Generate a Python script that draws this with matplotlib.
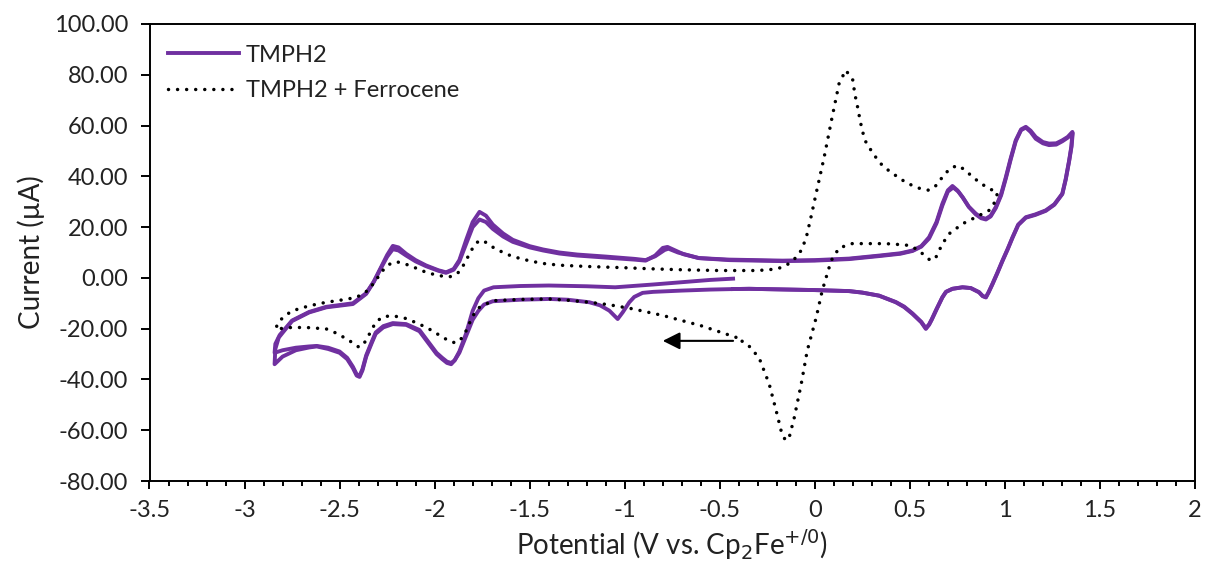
import matplotlib
matplotlib.use("Agg")
import matplotlib.pyplot as plt
from matplotlib.ticker import MultipleLocator, FuncFormatter

plt.rcParams['font.family'] = ['Lato', 'DejaVu Sans']
plt.rcParams['axes.unicode_minus'] = False

# ---------------- data ----------------
series_labels = ["TMPH2", "TMPH2 + Ferrocene"]

# TMPH2, cycle 1 (start -0.43 V, scan negative, to +1.36 V, back to -0.43 V)
tmph2_c1_E = [-0.43, -0.55, -0.70, -0.85, -1.05, -1.20, -1.40, -1.55, -1.69, -1.74, -1.77, -1.80, -1.835, -1.87,
              -1.895, -1.913, -1.935, -1.96, -1.99, -2.04, -2.08, -2.15, -2.22, -2.27, -2.31, -2.33, -2.36,
              -2.38, -2.395, -2.41, -2.43, -2.46, -2.50, -2.56, -2.62, -2.66, -2.73, -2.80, -2.842,
              -2.838, -2.82, -2.75, -2.66, -2.57, -2.43, -2.36, -2.32, -2.29, -2.25, -2.22, -2.19, -2.15, -2.10,
              -2.045, -1.98, -1.94, -1.90, -1.87, -1.834, -1.80, -1.764, -1.73, -1.694, -1.64, -1.589, -1.50,
              -1.43, -1.344, -1.25, -1.10, -0.95, -0.89, -0.84, -0.79, -0.77, -0.72, -0.66, -0.61, -0.45, -0.17,
              0.0, 0.18, 0.34, 0.45, 0.514, 0.56, 0.601, 0.64, 0.671, 0.70, 0.724, 0.75, 0.777, 0.81, 0.847,
              0.875, 0.90, 0.925, 0.952, 0.98, 1.005, 1.03, 1.057, 1.085, 1.11, 1.135, 1.162, 1.20, 1.232, 1.27,
              1.302, 1.33, 1.355,
              1.35, 1.338, 1.32, 1.302, 1.26, 1.215, 1.16, 1.11, 1.07, 1.04, 1.015, 0.987, 0.96, 0.934, 0.915,
              0.90, 0.883, 0.864, 0.82, 0.777, 0.724, 0.69, 0.671, 0.64, 0.615, 0.601, 0.584, 0.56, 0.514, 0.47,
              0.426, 0.338, 0.25, 0.18, 0.0, -0.345, -0.43]
tmph2_c1_I = [-0.3, -0.8, -1.7, -2.6, -3.7, -3.3, -3.0, -3.2, -3.7, -5.0, -8.0, -13.0, -22.0, -29.0,
              -32.5, -34.0, -33.5, -32.0, -30.0, -25.0, -21.0, -18.5, -18.2, -19.5, -22.0, -25.5, -31.0,
              -36.5, -39.0, -38.5, -35.5, -32.0, -29.5, -28.0, -27.0, -27.4, -28.5, -31.0, -34.0,
              -28.0, -23.5, -17.0, -13.6, -11.6, -10.3, -6.3, -1.5, 3.0, 9.0, 12.6, 12.0, 9.5, 7.0,
              4.9, 3.0, 2.2, 3.5, 7.0, 15.0, 22.0, 26.0, 24.5, 21.0, 17.5, 15.0, 12.5,
              11.2, 10.0, 9.2, 8.4, 7.5, 7.0, 8.5, 11.0, 11.5, 10.0, 8.8, 7.8, 7.2, 6.8,
              7.0, 7.6, 8.8, 9.7, 10.8, 12.5, 16.0, 22.0, 29.2, 34.5, 36.2, 34.5, 31.8, 28.0, 25.3,
              23.8, 23.3, 24.5, 27.9, 33.0, 39.7, 47.0, 54.2, 58.5, 59.5, 58.0, 55.5, 53.5, 52.9, 53.0,
              54.2, 55.5, 57.5,
              52.0, 46.3, 39.0, 33.2, 29.0, 26.6, 25.0, 23.9, 21.0, 16.0, 11.5, 6.8, 2.0, -2.4, -5.5,
              -7.7, -7.2, -5.7, -4.0, -3.7, -4.3, -5.5, -7.7, -12.5, -16.5, -18.5, -20.1, -17.5, -14.2, -11.5,
              -9.6, -7.0, -5.8, -5.2, -4.8, -4.3, -4.4]

# TMPH2, cycle 2 (continues from -0.43 V)
tmph2_c2_E = [-0.43, -0.55, -0.70, -0.85, -0.906, -0.95, -0.976, -1.01, -1.037, -1.06, -1.081, -1.13, -1.186,
              -1.30, -1.396, -1.55, -1.694, -1.74, -1.77, -1.80, -1.835, -1.87, -1.895, -1.913, -1.935, -1.96,
              -1.99, -2.04, -2.08, -2.15, -2.22, -2.27, -2.31, -2.33, -2.36, -2.38, -2.395, -2.41, -2.43,
              -2.46, -2.50, -2.56, -2.62, -2.66, -2.73, -2.80, -2.842,
              -2.838, -2.815, -2.75, -2.66, -2.57, -2.43, -2.36, -2.32, -2.29, -2.25, -2.22, -2.19, -2.15, -2.10,
              -2.045, -1.98, -1.94, -1.90, -1.87, -1.834, -1.80, -1.764, -1.73, -1.694, -1.64, -1.589, -1.50,
              -1.43, -1.344, -1.25, -1.10, -0.95, -0.89, -0.84, -0.80, -0.775, -0.74, -0.69, -0.61, -0.45,
              -0.17, 0.0, 0.18, 0.34, 0.45, 0.514, 0.56, 0.601, 0.64, 0.671, 0.70, 0.728, 0.755, 0.78, 0.81,
              0.847, 0.875, 0.90, 0.925, 0.952, 0.98, 1.005, 1.03, 1.057, 1.085, 1.11, 1.135, 1.162, 1.20,
              1.232, 1.27, 1.302, 1.33, 1.357,
              1.35, 1.338, 1.32, 1.302, 1.26, 1.215, 1.16, 1.11, 1.07, 1.04, 1.015, 0.987, 0.96, 0.934, 0.915,
              0.90, 0.883, 0.864, 0.82, 0.777, 0.724, 0.69, 0.671, 0.64, 0.615, 0.601, 0.584, 0.56, 0.514, 0.47,
              0.426, 0.338, 0.25, 0.18, 0.0, -0.345, -0.43]
tmph2_c2_I = [-4.4, -4.6, -5.0, -5.5, -5.9, -7.5, -9.6, -13.5, -16.2, -14.5, -12.9, -10.8, -9.6,
              -8.6, -8.3, -8.6, -9.2, -10.5, -13.0, -16.5, -23.0, -29.5, -32.5, -33.5, -33.0, -31.5,
              -29.5, -24.5, -20.5, -18.2, -17.8, -19.0, -21.5, -25.0, -30.5, -36.0, -38.5, -38.0, -35.0,
              -31.5, -29.0, -27.5, -26.8, -27.0, -27.5, -28.5, -29.5,
              -26.0, -22.5, -16.8, -13.4, -11.4, -10.0, -6.0, -1.5, 2.8, 8.3, 11.3, 10.8, 8.8, 6.5,
              4.6, 2.8, 2.0, 3.2, 6.5, 13.5, 20.0, 23.0, 22.0, 19.3, 16.3, 14.2, 12.0,
              10.8, 9.6, 8.8, 8.0, 7.2, 6.8, 8.8, 11.8, 12.2, 11.0, 9.3, 7.8, 7.0,
              6.6, 6.8, 7.4, 8.6, 9.5, 10.6, 12.3, 15.5, 21.5, 28.5, 34.0, 35.6, 34.0, 31.5, 28.0,
              25.0, 23.5, 23.0, 24.2, 27.5, 32.5, 39.2, 46.5, 53.8, 58.2, 59.2, 57.5, 54.8, 53.0,
              52.3, 52.5, 53.8, 55.2, 57.0,
              51.5, 46.0, 38.7, 33.0, 28.8, 26.4, 24.8, 23.7, 20.8, 15.8, 11.3, 6.6, 1.8, -2.6, -5.6,
              -7.6, -7.1, -5.6, -4.0, -3.7, -4.3, -5.5, -7.6, -12.3, -16.3, -18.3, -19.8, -17.3, -14.0, -11.3,
              -9.5, -7.0, -5.8, -5.2, -4.8, -4.3, -4.4]

# TMPH2 + Ferrocene (start -0.42 V, scan negative)
fc_E = [-0.415, -0.52, -0.60, -0.696, -0.80, -0.958, -1.08, -1.186, -1.30, -1.396, -1.55, -1.694, -1.764,
        -1.80, -1.834, -1.865, -1.89, -1.92, -1.957, -2.02, -2.08, -2.15, -2.22, -2.273, -2.31, -2.343,
        -2.378, -2.40, -2.447, -2.51, -2.57, -2.66, -2.746, -2.80, -2.833,
        -2.83, -2.816, -2.78, -2.746, -2.66, -2.57, -2.48, -2.413, -2.37, -2.343, -2.31, -2.273, -2.24,
        -2.203, -2.17, -2.132, -2.045, -1.98, -1.922, -1.89, -1.87, -1.84, -1.817, -1.79, -1.764, -1.73,
        -1.694, -1.64, -1.589, -1.50, -1.432, -1.344, -1.20, -1.00, -0.871, -0.70, -0.503, -0.30, -0.20,
        -0.15, -0.099, -0.07, -0.045, -0.02, 0.007, 0.049, 0.091, 0.128, 0.163, 0.20, 0.21, 0.225, 0.235,
        0.248, 0.265, 0.29, 0.32, 0.355, 0.40, 0.44, 0.485, 0.55, 0.601, 0.64, 0.671, 0.71, 0.75, 0.78,
        0.812, 0.864, 0.917, 0.961,
        0.955, 0.935, 0.917, 0.847, 0.777, 0.707, 0.671, 0.637, 0.610, 0.58, 0.549, 0.496, 0.40, 0.338,
        0.197, 0.128, 0.086, 0.039, 0.007, -0.04, -0.071, -0.108, -0.135, -0.155, -0.177, -0.203, -0.24,
        -0.293, -0.35, -0.415]
fc_I = [-23.4, -20.8, -18.8, -16.9, -14.8, -12.2, -10.6, -9.6, -8.8, -8.3, -8.5, -9.0, -11.6,
        -15.0, -20.8, -24.5, -25.6, -25.0, -23.4, -20.5, -18.2, -16.0, -14.9, -15.3, -17.5, -22.1,
        -26.7, -27.2, -24.8, -22.0, -20.1, -19.6, -19.5, -19.8, -20.5,
        -18.5, -16.9, -14.5, -12.9, -11.0, -9.6, -8.6, -7.7, -6.0, -4.3, -1.0, 2.9, 5.3,
        6.4, 5.8, 4.9, 2.2, 0.9, 0.4, 1.2, 2.5, 6.0, 9.5, 13.0, 14.8, 14.0,
        12.1, 10.0, 8.4, 6.7, 5.7, 5.0, 4.5, 4.0, 3.6, 3.2, 2.9, 2.9, 3.5,
        4.9, 8.0, 11.0, 15.9, 24.0, 33.3, 47.5, 63.3, 76.7, 81.8, 77.9, 72.6, 67.3, 63.3,
        58.5, 54.0, 50.9, 47.6, 44.3, 41.6, 39.6, 37.3, 35.3, 34.5, 36.5, 39.7, 43.0, 44.3, 43.0,
        41.0, 37.7, 35.1, 33.8,
        31.5, 28.0, 26.6, 23.9, 21.3, 17.4, 13.4, 8.1, 6.8, 8.5, 10.8, 12.8, 13.4, 13.5,
        13.5, 11.8, 6.8, -5.0, -15.7, -28.7, -41.6, -55.0, -62.9, -64.0, -60.3, -52.4, -41.8,
        -31.5, -26.5, -23.4]

# scan-direction arrow (start / end potential, current)
arrow_E = [-0.43, -0.80]
arrow_I = -24.8

xlim = (-3.5, 2.0)
ylim = (-80, 100)

# ---------------- figure ----------------
purple = '#7030A0'
fs_tick = 17
fs_label = 20

fig = plt.figure(figsize=(12.08, 5.69), dpi=100)
ax = fig.add_axes([149.5 / 1208, 1 - 481 / 569, (1195 - 149.5) / 1208, (481 - 24) / 569])

ax.plot(tmph2_c1_E, tmph2_c1_I, color=purple, lw=2.8, solid_joinstyle='round', label=series_labels[0])
ax.plot(tmph2_c2_E, tmph2_c2_I, color=purple, lw=2.8, solid_joinstyle='round')
ax.plot(fc_E, fc_I, color='black', lw=2.5, linestyle=(0, (0.01, 2.6)), dash_capstyle='round',
        label=series_labels[1])

ax.annotate('', xy=(arrow_E[1], arrow_I), xytext=(arrow_E[0], arrow_I),
            arrowprops=dict(arrowstyle='-|>', color='black', lw=1.5, mutation_scale=26,
                            shrinkA=0, shrinkB=0))

ax.set_xlim(*xlim)
ax.set_ylim(*ylim)
ax.xaxis.set_major_locator(MultipleLocator(0.5))
ax.xaxis.set_minor_locator(MultipleLocator(0.1))
ax.yaxis.set_major_locator(MultipleLocator(20))
ax.xaxis.set_major_formatter(FuncFormatter(lambda v, p: ('%g' % round(v, 2)) if abs(v) > 1e-9 else '0'))
ax.yaxis.set_major_formatter(FuncFormatter(lambda v, p: '%.2f' % v))

for s in ax.spines.values():
    s.set_linewidth(1.4)
    s.set_color('black')
ax.tick_params(axis='x', which='major', direction='out', length=6, width=1.4, labelsize=fs_tick, pad=8,
               colors='black', labelcolor='#222222')
ax.tick_params(axis='x', which='minor', direction='out', length=3.5, width=1.4)
ax.tick_params(axis='y', which='major', direction='out', length=6.5, width=1.4, labelsize=fs_tick, pad=9,
               labelcolor='#222222')

ax.set_xlabel('Potential (V vs. Cp$_2$Fe$^{+/0}$)', fontsize=fs_label, color='#222222', labelpad=4)
ax.set_ylabel('Current (\u00b5A)', fontsize=fs_label, color='#222222', labelpad=6)

leg = ax.legend(loc='upper left', bbox_to_anchor=(0.0177, 0.955), frameon=False, fontsize=fs_tick,
                borderpad=0, borderaxespad=0, handlelength=3.0, handletextpad=0.3, labelspacing=0.62)
for t in leg.get_texts():
    t.set_color('#222222')

fig.savefig('out.png', dpi=100)
